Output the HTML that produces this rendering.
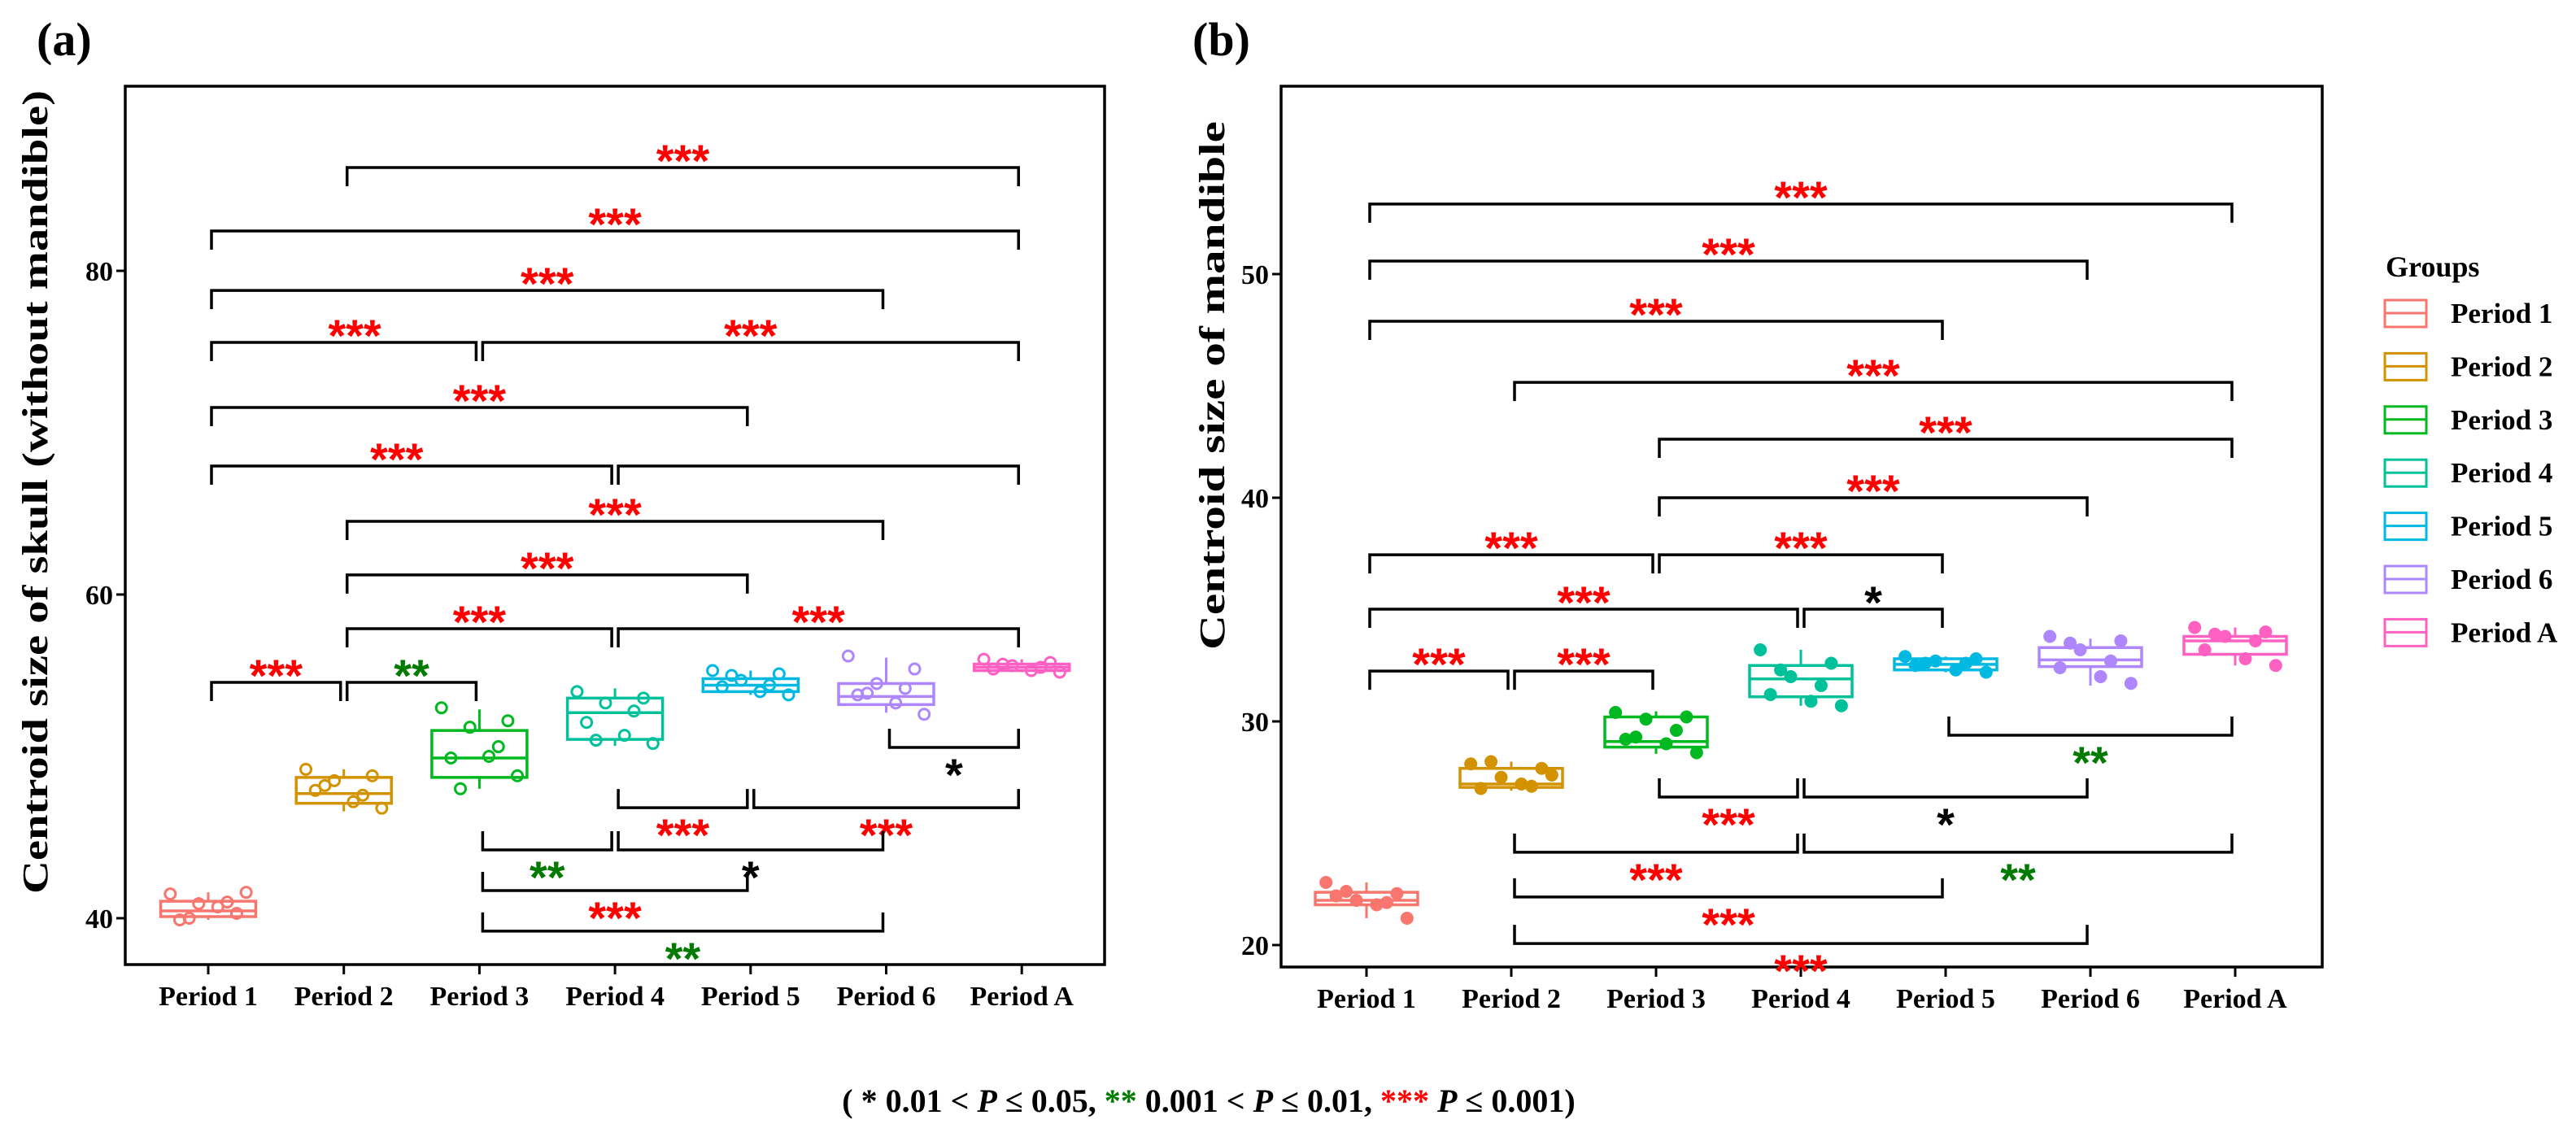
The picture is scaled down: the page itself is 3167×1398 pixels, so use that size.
<!DOCTYPE html>
<html><head><meta charset="utf-8"><style>
html,body{margin:0;padding:0;background:#fff}
svg{display:block}
.ser{font-family:"Liberation Serif",serif;font-weight:bold}
.st{font-family:"Liberation Sans",sans-serif;font-weight:bold;font-size:56px}
</style></head><body>
<svg id="fig" width="3167" height="1398" viewBox="0 0 3167 1398" xmlns="http://www.w3.org/2000/svg">
<rect width="3167" height="1398" fill="#fff"/>
<g id="pa"></g>
<g id="pb"></g>
<g id="legend"></g>
<text class="ser" x="1486" y="1367" font-size="40" text-anchor="middle">( <tspan fill="#000">*</tspan> 0.01 &lt; <tspan font-style="italic">P</tspan> ≤ 0.05, <tspan fill="#007a00">**</tspan> 0.001 &lt; <tspan font-style="italic">P</tspan> ≤ 0.01,  <tspan fill="#ff0000">***</tspan> <tspan font-style="italic">P</tspan> ≤ 0.001)</text>
</svg>
<script>
const cats=["Period 1","Period 2","Period 3","Period 4","Period 5","Period 6","Period A"];
const colors=["#F8766D","#D39200","#00B81F","#00C19A","#00B9E3","#AE87FF","#FF61C3"];
const jit=[-0.2,0.15,-0.05,0.1,-0.15,0.05,0.2,-0.1];
// panel a data
const aPts=[[41.5,40.3,40.9,41.0,39.9,40.7,41.6,40.0],[49.2,48.8,48.5,47.6,47.9,47.2,46.8,48.2],[53.0,52.2,51.8,50.6,49.9,50.0,48.8,48.0],[54.0,53.6,53.3,52.8,52.1,51.3,50.8,51.0],[55.3,55.1,54.7,54.4,54.3,54.0,53.8,55.0],[56.2,55.4,54.5,54.2,53.8,53.3,52.6,53.9],[56.0,55.8,55.6,55.5,55.4,55.3,55.2,55.7]];
const aQ1=[40.1,47.1,48.7,51.05,54.0,53.2,55.3];
const aMed=[40.45,47.7,49.9,52.7,54.4,53.7,55.5];
const aQ3=[41.05,48.7,51.6,53.6,54.8,54.5,55.7];
const aLo=[39.9,46.6,48.0,50.65,53.8,52.7,55.2];
const aHi=[41.6,49.2,52.9,54.2,55.3,56.1,56.0];
const aTicks=[40,60,80];
const aBrFrom=[1,0,0,0,2,0,0,3,1,1,1,3,0,1,5,3,4,2,3,2,2];
const aBrTo=[6,6,5,2,6,4,3,6,5,4,3,6,1,2,6,4,6,3,5,4,5];
const aBrVal=[86.38,82.46,78.79,75.58,75.58,71.56,67.94,67.94,64.52,61.21,57.89,57.89,54.57,54.57,50.55,46.83,46.83,44.22,44.22,41.71,39.2];
const aBrDir=[1,1,1,1,1,1,1,1,1,1,1,1,1,1,-1,-1,-1,-1,-1,-1,-1];
const aBrLab=["***","***","***","***","***","***","***","","***","***","***","***","***","**","*","***","***","**","*","***","**"];
const aBrLabX=[3.5,3.0,2.5,1.08,4.0,2.0,1.39,4.5,3.0,2.5,2.0,4.5,0.5,1.5,5.5,3.5,5.0,2.5,4.0,3.0,3.5];
// panel b data
const bPts=[[22.8,22.3,22.0,21.9,22.2,21.8,21.2,22.4],[28.1,27.9,27.5,27.1,27.0,27.2,27.6,28.2],[30.4,30.2,30.1,29.6,29.2,29.0,28.6,29.3],[33.2,32.6,32.0,31.6,31.2,30.9,30.7,32.3],[32.9,32.8,32.7,32.6,32.5,32.3,32.2,32.6],[33.8,33.6,33.2,32.7,32.4,32.0,31.7,33.5],[34.2,34.0,33.8,33.6,33.2,32.8,32.5,33.9]];
const bQ1=[21.8,27.05,28.85,31.1,32.3,32.45,33.0];
const bMed=[22.0,27.2,29.1,31.9,32.55,32.75,33.6];
const bQ3=[22.36,27.9,30.2,32.5,32.8,33.3,33.8];
const bLo=[21.2,26.9,28.55,30.7,32.2,31.6,32.5];
const bHi=[22.8,28.2,30.45,33.2,32.9,33.7,34.2];
const bTicks=[20,30,40,50];
const bBrFrom=[0,0,0,1,2,2,0,2,0,3,0,1,4,2,3,1,3,1,1];
const bBrTo=[6,5,4,6,6,5,2,4,3,4,1,2,6,3,5,3,6,4,5];
const bBrVal=[53.13,50.58,47.89,45.16,42.62,40.0,37.45,37.45,35.02,35.02,32.25,32.25,29.38,26.62,26.62,24.15,24.15,22.15,20.07];
const bBrDir=[1,1,1,1,1,1,1,1,1,1,1,1,-1,-1,-1,-1,-1,-1,-1];
const bBrLab=["***","***","***","***","***","***","***","***","***","*","***","***","**","***","*","***","**","***","***"];
const bBrLabX=[3.0,2.5,2.0,3.5,4.0,3.5,1.0,3.0,1.5,3.5,0.5,1.5,5.0,2.5,4.0,2.0,4.5,2.5,3.0];
const labColor={"*":"#000","**":"#007a00","***":"#ff0000"};

const NS="http://www.w3.org/2000/svg";
function mk(parent,tag,attrs,text){const e=document.createElementNS(NS,tag);for(const k in attrs)e.setAttribute(k,attrs[k]);if(text!==undefined)e.textContent=text;parent.appendChild(e);return e;}

function panel(g,o){
  const X=i=>o.x0+i*o.dx, Y=v=>o.yRef-(v-o.vRef)*o.k;
  const fr=mk(g,'rect',{x:o.L,y:o.T,width:o.R-o.L,height:o.B-o.T,fill:'none',stroke:'#000','stroke-width':3.5});
  
  
  o.ticks.forEach(t=>{
    const tl=mk(g,'line',{x1:o.L-11,x2:o.L,y1:Y(t),y2:Y(t),stroke:'#000','stroke-width':3});
    
    
    const tx=mk(g,'text',{x:o.L-15,y:Y(t)+12,'text-anchor':'end','font-size':34,class:'ser'},String(t));
    
    
  });
  cats.forEach((c,i)=>{
    const tl=mk(g,'line',{x1:X(i),x2:X(i),y1:o.B,y2:o.B+12,stroke:'#000','stroke-width':3});
    
    
    const tx=mk(g,'text',{x:X(i),y:o.B+50,'text-anchor':'middle','font-size':34,class:'ser'},c);
    
    
  });
  cats.forEach((c,i)=>{
    const bg=mk(g,'g',{});
    
    
    const col=colors[i],cx=X(i),hw=o.bw/2;
    mk(bg,'line',{x1:cx,x2:cx,y1:Y(o.hi[i]),y2:Y(o.q3[i]),stroke:col,'stroke-width':3});
    mk(bg,'line',{x1:cx,x2:cx,y1:Y(o.q1[i]),y2:Y(o.lo[i]),stroke:col,'stroke-width':3});
    mk(bg,'rect',{x:cx-hw,y:Y(o.q3[i]),width:o.bw,height:Math.max(1,Y(o.q1[i])-Y(o.q3[i])),fill:'none',stroke:col,'stroke-width':3.5});
    mk(bg,'line',{x1:cx-hw,x2:cx+hw,y1:Y(o.med[i]),y2:Y(o.med[i]),stroke:col,'stroke-width':3.5});
    o.pts[i].forEach((v,j)=>{
      const p=mk(bg,'circle',{cx:cx+jit[j]*o.dx*1.4,cy:Y(v),r:o.filled?8:6.5,fill:o.filled?col:'none',stroke:col,'stroke-width':o.filled?0:3});
      
      
    });
  });
  o.bf.forEach((f,i)=>{
    const bg=mk(g,'g',{});
    
    
    const x1=X(f)+4,x2=X(o.bt[i])-4,y=Y(o.bv[i]),d=o.bd[i];
    const yt=y+23*d;
    mk(bg,'polyline',{points:`${x1},${yt} ${x1},${y} ${x2},${y} ${x2},${yt}`,fill:'none',stroke:'#000','stroke-width':3.5});
    const lab=o.bl[i];
    if(lab){
      const cy=d>0?y-21:y+21;
      const t=mk(bg,'text',{x:X(o.bx[i]),y:cy+32,'text-anchor':'middle',class:'st',fill:labColor[lab]},lab);
      
      
    }
  });
  const pl=mk(g,'text',{x:o.tagX,y:68,'font-size':58,class:'ser'},o.tag);
  
  
  const yl=mk(g,'text',{x:0,y:0,'font-size':44,class:'ser','text-anchor':'middle',textLength:o.ylLen,lengthAdjust:'spacingAndGlyphs',transform:`translate(${o.ylX},${o.ylY}) rotate(-90)`},o.ylab);
  
  
}

panel(document.getElementById('pa'),{L:154,R:1358,T:106,B:1186,x0:256,dx:166.7,yRef:1129,vRef:40,k:19.9,bw:117,
  ticks:aTicks,pts:aPts,q1:aQ1,med:aMed,q3:aQ3,lo:aLo,hi:aHi,filled:false,
  bf:aBrFrom,bt:aBrTo,bv:aBrVal,bd:aBrDir,bl:aBrLab,bx:aBrLabX,tag:'(a)',tagX:45,
  ylab:'Centroid size of skull (without mandible)',ylX:58,ylY:605,ylLen:988});
panel(document.getElementById('pb'),{L:1575,R:2855,T:106,B:1189,x0:1680,dx:178,yRef:1162,vRef:20,k:27.5,bw:126,
  ticks:bTicks,pts:bPts,q1:bQ1,med:bMed,q3:bQ3,lo:bLo,hi:bHi,filled:true,
  bf:bBrFrom,bt:bBrTo,bv:bBrVal,bd:bBrDir,bl:bBrLab,bx:bBrLabX,tag:'(b)',tagX:1466,
  ylab:'Centroid size of mandible',ylX:1505,ylY:474,ylLen:650});

const lg=document.getElementById('legend');
const lt=mk(lg,'text',{x:2933,y:340,'font-size':36,class:'ser'},'Groups');


cats.forEach((c,i)=>{
  const cy=385+i*65.4;
  const e=mk(lg,'g',{});
  
  
  mk(e,'rect',{x:2932,y:cy-16,width:51,height:33,fill:'none',stroke:colors[i],'stroke-width':3});
  mk(e,'line',{x1:2932,x2:2983,y1:cy,y2:cy,stroke:colors[i],'stroke-width':3});
  mk(e,'text',{x:3013,y:cy+12,'font-size':35,class:'ser'},c);
});
</script>
</body></html>
